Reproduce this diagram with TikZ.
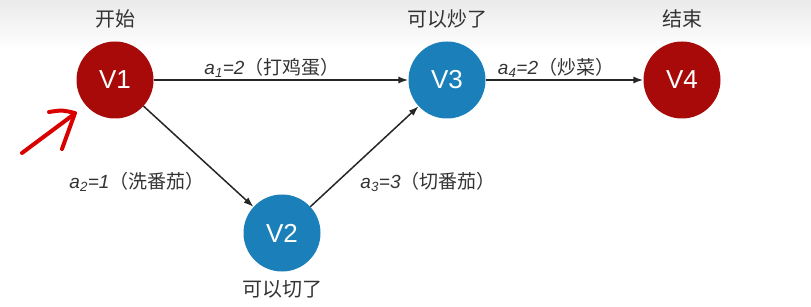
\documentclass[tikz,border=0pt]{standalone}
\usepackage{fontspec}
\setmainfont{Liberation Sans}
\newfontfamily\cjk{Noto Sans CJK SC}
\usetikzlibrary{arrows.meta}
\definecolor{startred}{HTML}{A80A0A}
\definecolor{midblue}{HTML}{1B80BA}
\definecolor{labelgray}{HTML}{333333}
\tikzset{
  vertex/.style={circle, minimum size=77pt, inner sep=0pt, text=white, font=\fontsize{26}{28}\selectfont},
  redv/.style={vertex, fill=startred},
  bluev/.style={vertex, fill=midblue},
  note/.style={text=labelgray, font=\cjk\fontsize{20}{22}\selectfont},
  act/.style={-{Latex[length=10pt,width=7pt]}, line width=1.5pt, black!85},
  cost/.style={text=labelgray, font=\fontsize{19}{21}\selectfont, inner sep=1pt}
}
\newcommand{\actlabel}[3]{{\itshape a\textsubscript{#1}=#2}{\cjk （#3）}}
\begin{document}
\begin{tikzpicture}[x=1pt, y=-1pt]
  \useasboundingbox (0,0) rectangle (811,307);
  \shade[top color=black!8, bottom color=white] (0,0) rectangle (811,50);
  % events
  \node[redv] (v1) at (115,80) {V1};
  \node[bluev] (v2) at (282,233) {V2};
  \node[bluev] (v3) at (447,80) {V3};
  \node[redv] (v4) at (682,80) {V4};
  \node[note] (n1) at (115,19) {开始};
  \node[note] (n3) at (447,19) {可以炒了};
  \node[note] (n4) at (682,19) {结束};
  \node[note] (n2) at (282,289) {可以切了};
  % activities
  \draw[act] (v1) -- (v3);
  \draw[act] (v3) -- (v4);
  \draw[act] (v1) -- (v2);
  \draw[act] (v2) -- (v3);
  \node[cost] (c1) at (272,68) {\actlabel{1}{2}{打鸡蛋}};
  \node[cost] (c4) at (556,68) {\actlabel{4}{2}{炒菜}};
  \node[cost] (c2) at (137,182) {\actlabel{2}{1}{洗番茄}};
  \node[cost] (c3) at (428,182) {\actlabel{3}{3}{切番茄}};
  % hand-drawn pointer
  \draw[red!85!black, line width=4pt, line cap=round, line join=round]
    (22,153) -- (73,115);
  \draw[red!85!black, line width=4pt, line cap=round, line join=round]
    (49,112) .. controls (62,110) .. (75,113) -- (62,149);
\end{tikzpicture}
\end{document}
